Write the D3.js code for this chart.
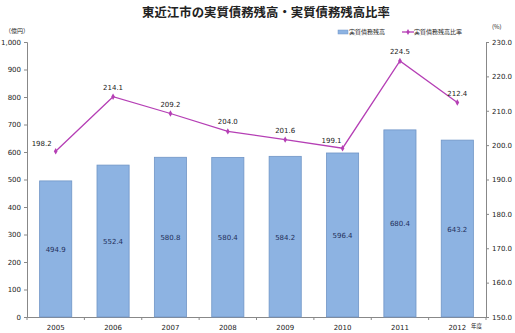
<!DOCTYPE html>
<html>
<head>
<meta charset="utf-8">
<script src="https://cdn.jsdelivr.net/npm/d3@7"></script>
<style>
  body { margin: 0; background: #fff; }
  svg { font-family: "Noto Sans CJK JP", "DejaVu Sans", sans-serif; }
</style>
</head>
<body>
<svg id="chart"></svg>
<script>
const years = ["2005", "2006", "2007", "2008", "2009", "2010", "2011", "2012"];
const debtBalance = [494.9, 552.4, 580.8, 580.4, 584.2, 596.4, 680.4, 643.2];
const debtRatio = [198.2, 214.1, 209.2, 204.0, 201.6, 199.1, 224.5, 212.4];
const leftTicks = [0, 100, 200, 300, 400, 500, 600, 700, 800, 900, 1000];
const rightTicks = [150, 160, 170, 180, 190, 200, 210, 220, 230];

const width = 515;
const height = 333;
const margin = { top: 42, right: 29, bottom: 16, left: 27 };

const svg = d3.select("#chart").attr("width", width).attr("height", height);

const x = d3.scaleBand()
    .domain(years)
    .range([margin.left, width - margin.right])
    .paddingInner(0.44)
    .paddingOuter(0.22);

const yL = d3.scaleLinear().domain([0, 1000]).range([height - margin.bottom, margin.top]);
const yR = d3.scaleLinear().domain([150, 230]).range([height - margin.bottom, margin.top]);

// title
svg.append("text")
    .attr("x", 266).attr("y", 17)
    .attr("text-anchor", "middle")
    .attr("font-size", "12.4px").attr("font-weight", "bold").attr("fill", "#222")
    .text("東近江市の実質債務残高・実質債務残高比率");

// axes
const axisL = svg.append("g")
    .attr("transform", `translate(${margin.left},0)`)
    .call(d3.axisLeft(yL).tickValues(leftTicks).tickSize(3).tickPadding(3).tickFormat(d3.format(",")));
const axisR = svg.append("g")
    .attr("transform", `translate(${width - margin.right},0)`)
    .call(d3.axisRight(yR).tickValues(rightTicks).tickSize(3).tickPadding(3).tickFormat(d3.format(".1f")));
const axisX = svg.append("g")
    .attr("transform", `translate(0,${height - margin.bottom})`)
    .call(d3.axisBottom(x).tickSize(0).tickPadding(8));

[axisL, axisR, axisX].forEach(g => {
    g.select(".domain").attr("stroke", "#888");
    g.selectAll(".tick line").attr("stroke", "#888");
    g.selectAll("text").attr("font-size", "7px").attr("fill", "#222")
        .attr("font-family", "DejaVu Sans, sans-serif");
});

// x tick marks between categories
const step = x.step();
svg.selectAll(".xsep")
    .data(d3.range(years.length + 1)).enter().append("line")
    .attr("x1", i => margin.left + i * step).attr("x2", i => margin.left + i * step)
    .attr("y1", height - margin.bottom).attr("y2", height - margin.bottom + 3)
    .attr("stroke", "#888");

// unit labels
svg.append("text").attr("x", 5).attr("y", 33).attr("font-size", "6px").attr("fill", "#222").text("（億円）");
svg.append("text").attr("x", 492).attr("y", 29).attr("font-size", "6px").attr("fill", "#222").text("(%)");
svg.append("text").attr("x", 471).attr("y", 328).attr("font-size", "5.5px").attr("fill", "#222").text("年度");

// bars
svg.selectAll(".bar")
    .data(years).enter().append("rect")
    .attr("x", d => x(d))
    .attr("width", x.bandwidth())
    .attr("y", (d, i) => yL(debtBalance[i]))
    .attr("height", (d, i) => yL(0) - yL(debtBalance[i]))
    .attr("fill", "#8db3e2")
    .attr("stroke", "#7095c6").attr("stroke-width", 0.8);

svg.selectAll(".barLabel")
    .data(years).enter().append("text")
    .attr("x", d => x(d) + x.bandwidth() / 2)
    .attr("y", (d, i) => (yL(debtBalance[i]) + yL(0)) / 2 + 3)
    .attr("text-anchor", "middle")
    .attr("font-size", "7px").attr("fill", "#1f2f5a")
    .attr("font-family", "DejaVu Sans, sans-serif")
    .text((d, i) => debtBalance[i].toFixed(1));

// line
const lineColor = "#b53fb5";
const line = d3.line()
    .x((d, i) => x(years[i]) + x.bandwidth() / 2)
    .y(d => yR(d));
svg.append("path").datum(debtRatio)
    .attr("fill", "none").attr("stroke", lineColor).attr("stroke-width", 1.3)
    .attr("d", line);

svg.selectAll(".pt")
    .data(debtRatio).enter().append("path")
    .attr("transform", (d, i) => `translate(${x(years[i]) + x.bandwidth() / 2},${yR(d)})`)
    .attr("d", d3.symbol(d3.symbolDiamond, 12))
    .attr("fill", lineColor);

svg.selectAll(".ptLabel")
    .data(debtRatio).enter().append("text")
    .attr("x", (d, i) => x(years[i]) + x.bandwidth() / 2 + (i === 0 ? -14 : i === 5 ? -11 : 0))
    .attr("y", (d, i) => yR(d) - (i === 0 || i === 5 ? 5 : 7))
    .attr("text-anchor", "middle")
    .attr("font-size", "7px").attr("fill", "#222")
    .attr("font-family", "DejaVu Sans, sans-serif")
    .text(d => d.toFixed(1));

// legend
const legend = svg.append("g").attr("font-size", "6px").attr("fill", "#222");
legend.append("rect").attr("x", 338).attr("y", 30).attr("width", 10).attr("height", 4)
    .attr("fill", "#8db3e2").attr("stroke", "#7095c6").attr("stroke-width", 0.5);
legend.append("text").attr("x", 349).attr("y", 34).text("実質債務残高");
legend.append("line").attr("x1", 402).attr("x2", 414).attr("y1", 32).attr("y2", 32)
    .attr("stroke", lineColor).attr("stroke-width", 1.3);
legend.append("path").attr("transform", "translate(408,32)")
    .attr("d", d3.symbol(d3.symbolDiamond, 10)).attr("fill", lineColor);
legend.append("text").attr("x", 414).attr("y", 34).text("実質債務残高比率");
</script>
</body>
</html>
